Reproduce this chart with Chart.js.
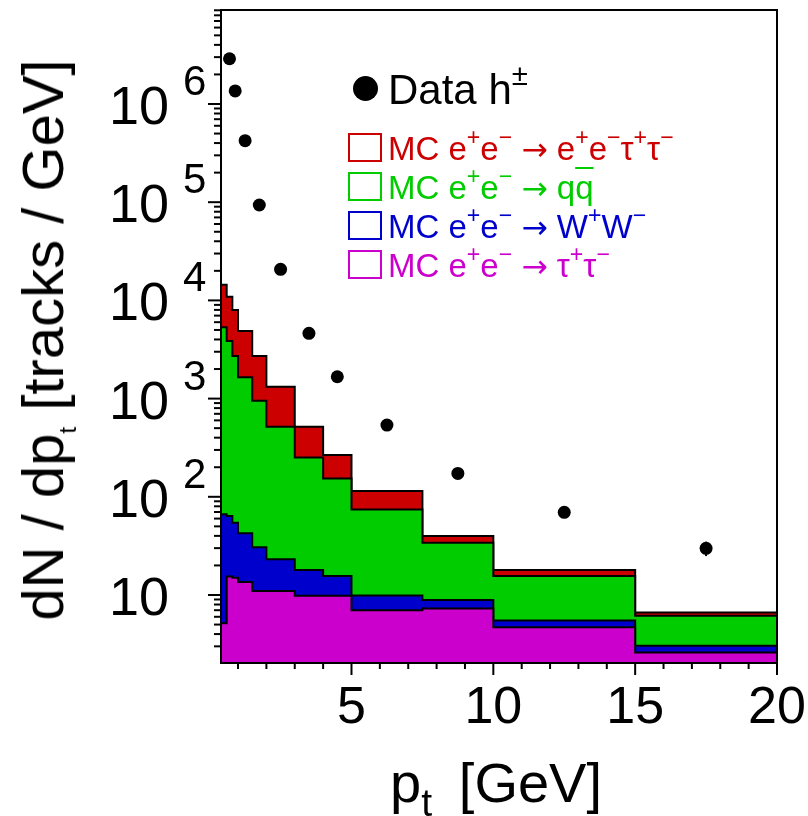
<!DOCTYPE html>
<html>
<head>
<meta charset="utf-8">
<script src="https://cdn.jsdelivr.net/npm/chart.js@4/dist/chart.umd.min.js"></script>
<style>
  html, body { margin: 0; padding: 0; background: #fff; }
  #wrap { position: relative; width: 808px; height: 816px; overflow: hidden; font-family: "Liberation Sans", Arial, sans-serif; }
  #c { position: absolute; left: 0; top: 0; }
  .txt { position: absolute; white-space: nowrap; line-height: 1; }
  .sup { position: relative; font-size: 0.7em; top: -0.65em; }
  .arr { font-family: "DejaVu Sans", sans-serif; font-size: 0.95em; }
  .box { position: absolute; width: 30px; height: 25px; border: 2px solid; background: #fff; }
  .dot { position: absolute; width: 25px; height: 25px; border-radius: 50%; background: #000; }
  .qbar { text-decoration: overline; text-decoration-thickness: 2px; }
</style>
</head>
<body>
<div id="wrap">
  <canvas id="c" width="808" height="816"></canvas>

  <div class="txt" style="left:43px; top:340px; font-size:58px; transform: translate(-50%,-50%) rotate(-90deg);">dN / dp<span style="position:relative; font-size:0.42em; top:0.55em;">t</span> [tracks / GeV]</div>
  <div class="txt" style="left:496px; top:755px; font-size:56px; transform: translateX(-50%);">p<span style="position:relative; font-size:0.7em; top:0.35em;">t</span> &thinsp;[GeV]</div>

  <div class="dot" style="left:353px; top:76px;"></div>
  <div class="txt" style="left:388px; top:69px; font-size:42px;">Data h<span class="sup">±</span></div>

  <div class="box" style="left:348px; top:133px; border-color:#cc0000;"></div>
  <div class="txt" style="left:388px; top:132px; font-size:33px; color:#cc0000;">MC e<span class="sup">+</span>e<span class="sup">−</span> <span class="arr">→</span> e<span class="sup">+</span>e<span class="sup">−</span>τ<span class="sup">+</span>τ<span class="sup">−</span></div>
  <div class="box" style="left:348px; top:172px; border-color:#00cc00;"></div>
  <div class="txt" style="left:388px; top:171px; font-size:33px; color:#00cc00;">MC e<span class="sup">+</span>e<span class="sup">−</span> <span class="arr">→</span> q<span class="qbar">q</span></div>
  <div class="box" style="left:348px; top:211px; border-color:#0000cc;"></div>
  <div class="txt" style="left:388px; top:210px; font-size:33px; color:#0000cc;">MC e<span class="sup">+</span>e<span class="sup">−</span> <span class="arr">→</span> W<span class="sup">+</span>W<span class="sup">−</span></div>
  <div class="box" style="left:348px; top:250px; border-color:#cc00cc;"></div>
  <div class="txt" style="left:388px; top:249px; font-size:33px; color:#cc00cc;">MC e<span class="sup">+</span>e<span class="sup">−</span> <span class="arr">→</span> τ<span class="sup">+</span>τ<span class="sup">−</span></div>
</div>

<script>
// bin edges in p_t [GeV]
var binEdges = [0.4, 0.6, 0.8, 1.0, 1.5, 2.0, 3.0, 4.0, 5.0, 7.5, 10, 15, 20];

// MC contributions per bin (tracks / GeV), stacked bottom to top
var mcTauTau   = [5.15, 15.4, 15.0, 13.6, 11.0, 11.0, 9.8, 9.8, 7.0, 7.3, 4.7, 2.6];
var mcWW       = [61.3, 48.3, 39.5, 28.9, 19.6, 12.1, 8.2, 5.8, 2.9, 1.6, 0.8, 0.44];
var mcQQ       = [5250, 3800, 2665, 1610, 922, 495, 234, 138, 64.4, 25.2, 10.1, 3.1];
var mcEETauTau = [9080, 7040, 5260, 3220, 1770, 800, 266, 113, 40.3, 5.8, 2.4, 0.5];

// data h+- at bin centres
var dataPt  = [0.7, 0.9, 1.25, 1.75, 2.5, 3.5, 4.5, 6.25, 8.75, 12.5, 17.5];
var dataVal = [2.89e6, 1.36e6, 4.23e5, 9.36e4, 2.07e4, 4620, 1670, 538, 173, 69.5, 29.9];
var dataErr = [0, 0, 0, 0, 0, 0, 0, 0, 0, 0, 5];

var xTickLabels = [5, 10, 15, 20];
var yLabelExps  = [1, 2, 3, 4, 5, 6];

function stackOn(base, vals) {
  return vals.map(function (v, i) { return (base ? base[i] : 0) + v; });
}
function stepPoints(vals) {
  var pts = vals.map(function (v, i) { return { x: binEdges[i], y: v }; });
  pts.push({ x: binEdges[binEdges.length - 1], y: vals[vals.length - 1] });
  return pts;
}

var cumTau = stackOn(null, mcTauTau);
var cumWW  = stackOn(cumTau, mcWW);
var cumQQ  = stackOn(cumWW, mcQQ);
var cumEE  = stackOn(cumQQ, mcEETauTau);

function histSet(vals, color) {
  return {
    type: 'line', data: stepPoints(vals), stepped: 'before', fill: 'start',
    backgroundColor: color, borderColor: '#000', borderWidth: 2,
    pointRadius: 0, tension: 0
  };
}

var axesPlugin = {
  id: 'rootAxes',
  afterDatasetsDraw: function (chart) {
    var ctx = chart.ctx, ca = chart.chartArea;
    var xs = chart.scales.x, ys = chart.scales.y;
    ctx.save();
    // error bars
    ctx.strokeStyle = '#000'; ctx.lineWidth = 2;
    dataPt.forEach(function (x, i) {
      if (!dataErr[i]) return;
      var px = xs.getPixelForValue(x);
      ctx.beginPath();
      ctx.moveTo(px, ys.getPixelForValue(dataVal[i] + dataErr[i]));
      ctx.lineTo(px, ys.getPixelForValue(dataVal[i] - dataErr[i]));
      ctx.stroke();
    });
    // frame
    ctx.strokeRect(ca.left, ca.top, ca.right - ca.left, ca.bottom - ca.top);
    // x ticks
    for (var v = 1; v <= 20; v++) {
      var px = xs.getPixelForValue(v);
      ctx.beginPath();
      ctx.moveTo(px, ca.bottom);
      ctx.lineTo(px, ca.bottom + (v % 5 === 0 ? 12 : 6));
      ctx.stroke();
    }
    ctx.fillStyle = '#000';
    ctx.font = '52px "Liberation Sans", Arial, sans-serif';
    ctx.textAlign = 'center'; ctx.textBaseline = 'alphabetic';
    xTickLabels.forEach(function (t) {
      ctx.fillText(String(t), xs.getPixelForValue(t), 723);
    });
    // y ticks
    for (var d = 0; d <= 7; d++) {
      for (var m = 1; m <= 9; m++) {
        var val = m * Math.pow(10, d);
        if (val < ys.min || val > ys.max) continue;
        var py = ys.getPixelForValue(val);
        ctx.beginPath();
        ctx.moveTo(ca.left - (m === 1 ? 13 : 7), py);
        ctx.lineTo(ca.left, py);
        ctx.stroke();
      }
    }
    ctx.textAlign = 'left';
    yLabelExps.forEach(function (e) {
      var py = ys.getPixelForValue(Math.pow(10, e));
      ctx.font = '54px "Liberation Sans", Arial, sans-serif';
      ctx.fillText('10', 109, py + 20);
      if (e > 1) {
        ctx.font = '42px "Liberation Sans", Arial, sans-serif';
        ctx.fillText(String(e), 183, py - 9);
      }
    });
    ctx.restore();
  }
};

new Chart(document.getElementById('c').getContext('2d'), {
  type: 'line',
  data: {
    datasets: [
      {
        type: 'line', showLine: false,
        data: dataPt.map(function (x, i) { return { x: x, y: dataVal[i] }; }),
        pointRadius: 6.5, pointBackgroundColor: '#000', pointBorderWidth: 0, borderWidth: 0
      },
      histSet(cumTau, '#cc00cc'),
      histSet(cumWW, '#0000cc'),
      histSet(cumQQ, '#00cc00'),
      histSet(cumEE, '#cc0000')
    ]
  },
  options: {
    responsive: false,
    animation: false,
    layout: { padding: { top: 10, right: 31, left: 0, bottom: 0 } },
    plugins: { legend: { display: false }, tooltip: { enabled: false } },
    scales: {
      x: {
        type: 'linear', min: 0.4, max: 20,
        grid: { display: false }, border: { display: false }, ticks: { display: false },
        afterFit: function (s) { s.height = 153; }
      },
      y: {
        type: 'logarithmic', min: 2.03, max: 9.06e6,
        grid: { display: false }, border: { display: false }, ticks: { display: false },
        afterFit: function (s) { s.width = 221; }
      }
    }
  },
  plugins: [axesPlugin]
});
</script>
</body>
</html>
